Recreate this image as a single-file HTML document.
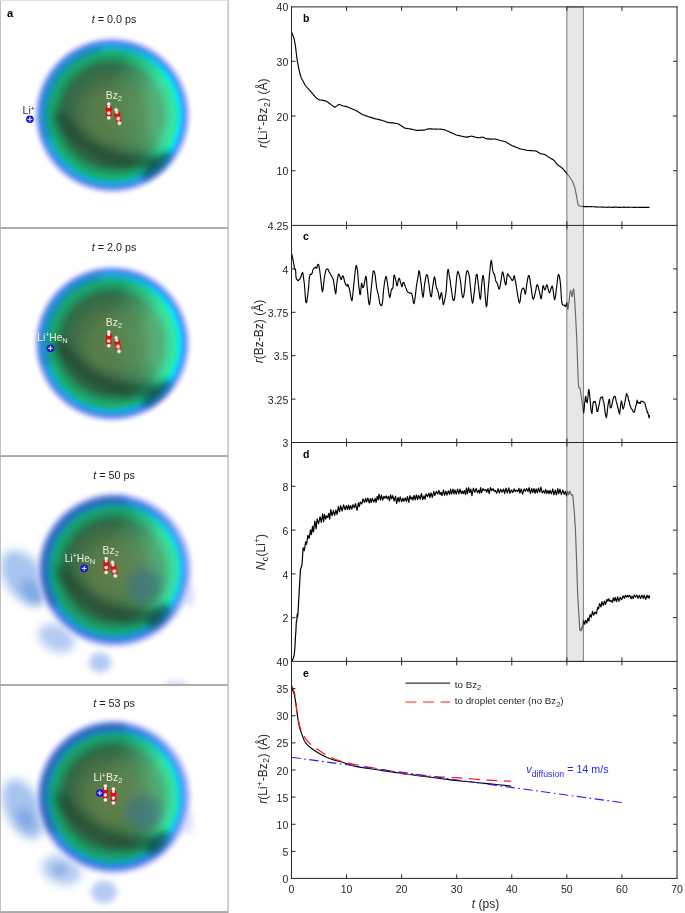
<!DOCTYPE html>
<html><head><meta charset="utf-8"><title>figure</title>
<style>
html,body{margin:0;padding:0;background:#fff;width:685px;height:913px;overflow:hidden;}
svg{display:block;will-change:transform;}
text{font-family:"Liberation Sans",sans-serif;}
</style></head><body>
<svg width="685" height="913" viewBox="0 0 685 913">
<rect width="685" height="913" fill="#fff"/>
<defs>
<filter id="bl1" x="-50%" y="-50%" width="200%" height="200%"><feGaussianBlur stdDeviation="1.2"/></filter>
<filter id="bl2" x="-50%" y="-50%" width="200%" height="200%"><feGaussianBlur stdDeviation="2"/></filter>
<filter id="bl3" x="-50%" y="-50%" width="200%" height="200%"><feGaussianBlur stdDeviation="3"/></filter>
<filter id="bl5" x="-50%" y="-50%" width="200%" height="200%"><feGaussianBlur stdDeviation="5"/></filter>
<filter id="bl8" x="-50%" y="-50%" width="200%" height="200%"><feGaussianBlur stdDeviation="8"/></filter>
<filter id="bl12" x="-50%" y="-50%" width="200%" height="200%"><feGaussianBlur stdDeviation="12"/></filter>
<radialGradient id="gL" cx="0" cy="0" r="80" gradientUnits="userSpaceOnUse">
  <stop offset="0" stop-color="#5e804a"/>
  <stop offset="0.30" stop-color="#527a4a"/>
  <stop offset="0.50" stop-color="#3e6c46"/>
  <stop offset="0.62" stop-color="#2e6c48"/>
  <stop offset="0.71" stop-color="#1f9660"/>
  <stop offset="0.79" stop-color="#18b27c"/>
  <stop offset="0.858" stop-color="#10a8e0"/>
  <stop offset="0.905" stop-color="#4a8ce8"/>
  <stop offset="0.94" stop-color="#a0b4f4"/>
  <stop offset="0.975" stop-color="#dcdeff" stop-opacity="0.7"/>
  <stop offset="1" stop-color="#ffffff" stop-opacity="0"/>
</radialGradient>
<radialGradient id="gR" cx="0" cy="0" r="80" gradientUnits="userSpaceOnUse">
  <stop offset="0" stop-color="#5a8a50"/>
  <stop offset="0.375" stop-color="#5a9a62"/>
  <stop offset="0.625" stop-color="#50b47c"/>
  <stop offset="0.725" stop-color="#3cdc9c"/>
  <stop offset="0.79" stop-color="#30e6a6"/>
  <stop offset="0.845" stop-color="#00e4fa"/>
  <stop offset="0.895" stop-color="#3098f8"/>
  <stop offset="0.935" stop-color="#98b4f8"/>
  <stop offset="0.97" stop-color="#dcdeff" stop-opacity="0.7"/>
  <stop offset="1" stop-color="#ffffff" stop-opacity="0"/>
</radialGradient>
<radialGradient id="gMask" cx="72" cy="-6" r="82" gradientUnits="userSpaceOnUse">
  <stop offset="0" stop-color="#fff"/>
  <stop offset="0.45" stop-color="#fff"/>
  <stop offset="1" stop-color="#000"/>
</radialGradient>
<mask id="mR" maskUnits="userSpaceOnUse" x="-82" y="-82" width="164" height="164">
  <rect x="-82" y="-82" width="164" height="164" fill="url(#gMask)"/>
</mask>
<filter id="bl15" x="-50%" y="-50%" width="200%" height="200%"><feGaussianBlur stdDeviation="1.6"/></filter>
<g id="dropA">
  <g filter="url(#bl15)">
  <circle r="80" fill="url(#gL)"/>
  <circle r="80" fill="url(#gR)" mask="url(#mR)"/>
  </g>
  <path d="M-52 2 Q-18 52 40 46" fill="none" stroke="#183e2c" stroke-width="13" stroke-linecap="round" opacity="0.6" filter="url(#bl5)"/>
  <path d="M-62.96 22.9 A67 67 0 0 1 -11.6 -66" fill="none" stroke="#1a4a78" stroke-width="7" opacity="0.3" filter="url(#bl3)"/>
  <ellipse cx="44" cy="50" rx="19" ry="6" transform="rotate(-42 44 50)" fill="#0c3040" opacity="0.6" filter="url(#bl3)"/>
</g>
<radialGradient id="gLB" cx="0" cy="0" r="79" gradientUnits="userSpaceOnUse">
  <stop offset="0" stop-color="#66804a"/>
  <stop offset="0.30" stop-color="#567a48"/>
  <stop offset="0.50" stop-color="#406c44"/>
  <stop offset="0.62" stop-color="#2e6a46"/>
  <stop offset="0.71" stop-color="#1f9260"/>
  <stop offset="0.79" stop-color="#16a878"/>
  <stop offset="0.855" stop-color="#1498d8"/>
  <stop offset="0.90" stop-color="#3a74e6"/>
  <stop offset="0.94" stop-color="#98b0f4"/>
  <stop offset="0.975" stop-color="#d0d4ff" stop-opacity="0.7"/>
  <stop offset="1" stop-color="#ffffff" stop-opacity="0"/>
</radialGradient>
<radialGradient id="gRB" cx="0" cy="0" r="79" gradientUnits="userSpaceOnUse">
  <stop offset="0" stop-color="#62844c"/>
  <stop offset="0.375" stop-color="#5a9460"/>
  <stop offset="0.62" stop-color="#4cb078"/>
  <stop offset="0.72" stop-color="#3cd898"/>
  <stop offset="0.785" stop-color="#30e2a4"/>
  <stop offset="0.835" stop-color="#00d8f6"/>
  <stop offset="0.885" stop-color="#3a8cf2"/>
  <stop offset="0.93" stop-color="#94b4f4"/>
  <stop offset="0.965" stop-color="#c8ccff" stop-opacity="0.7"/>
  <stop offset="1" stop-color="#ffffff" stop-opacity="0"/>
</radialGradient>
<g id="dropB">
  <ellipse cx="74" cy="25" rx="5" ry="12" fill="#a8acff" opacity="0.45" filter="url(#bl3)"/>
  <g filter="url(#bl2)">
    <circle r="79" fill="url(#gLB)"/>
    <circle r="79" fill="url(#gRB)" mask="url(#mR)"/>
  </g>
  <path d="M-60 34.6 A69 69 0 0 1 12 -68" fill="none" stroke="#1a4a7a" stroke-width="8" opacity="0.4" filter="url(#bl3)"/>
  <path d="M-52 2 Q-18 52 40 46" fill="none" stroke="#183e2c" stroke-width="13" stroke-linecap="round" opacity="0.55" filter="url(#bl5)"/>
  <ellipse cx="44" cy="46" rx="15" ry="7" transform="rotate(-45 44 46)" fill="#0c3040" opacity="0.55" filter="url(#bl3)"/>
  <ellipse cx="30" cy="15" rx="18" ry="17" fill="#3a6a88" opacity="0.55" filter="url(#bl5)"/>
</g>
<filter id="bl04" x="-50%" y="-50%" width="200%" height="200%"><feGaussianBlur stdDeviation="0.35"/></filter>
<g id="mol" filter="url(#bl04)">
  <ellipse cx="0" cy="-2.6" rx="3" ry="3.3" fill="#e00a0a"/>
  <ellipse cx="0" cy="2.6" rx="3" ry="3.3" fill="#e00a0a"/>
  <circle cx="0" cy="-6.9" r="1.75" fill="#f4f4f4"/>
  <circle cx="0" cy="-4.5" r="1.55" fill="#f4f4f4"/>
  <circle cx="0" cy="2.1" r="1.8" fill="#f4f4f4"/>
  <circle cx="0" cy="6.9" r="1.8" fill="#f4f4f4"/>
</g>
<g id="li">
  <circle r="3.8" fill="#1010e0"/>
  <path d="M-2.4 0H2.4M0 -2.4V2.4" stroke="#fff" stroke-width="1"/>
</g>
</defs>

<g id="panels">
<clipPath id="cp1"><rect x="1" y="1" width="226" height="226"/></clipPath>
<clipPath id="cp2"><rect x="1" y="229" width="226" height="226"/></clipPath>
<clipPath id="cp3"><rect x="1" y="457" width="226" height="227"/></clipPath>
<clipPath id="cp4"><rect x="1" y="686" width="226" height="225"/></clipPath>
<!-- panel 1 -->
<g clip-path="url(#cp1)">
  <use href="#dropA" transform="translate(112.3,115.2)"/>
  <use href="#mol" transform="translate(108.8,111)"/>
  <use href="#mol" transform="translate(117.8,116.6) rotate(-14)"/>
  <use href="#li" transform="translate(29.9,119.3)"/>
  <text x="22.6" y="114.3" font-size="10.5" fill="#333">Li<tspan dy="-3.5" font-size="7">+</tspan></text>
  <text x="105.8" y="99" font-size="10.5" fill="#e8ece0">Bz<tspan dy="2" font-size="7.5">2</tspan></text>
</g>
<!-- panel 2 -->
<g clip-path="url(#cp2)"><g transform="translate(0,228.3)">
  <use href="#dropA" transform="translate(112.3,115.2)"/>
  <use href="#mol" transform="translate(108.8,110.6)"/>
  <use href="#mol" transform="translate(117.6,116.3) rotate(-12)"/>
  <use href="#li" transform="translate(50.4,119.9)"/>
  <text x="37.3" y="112.4" font-size="10.2" fill="#eef0ea">Li<tspan dy="-3.5" font-size="7">+</tspan><tspan dy="3.5">He</tspan><tspan dy="2" font-size="7.5">N</tspan></text>
  <text x="105.8" y="97.6" font-size="10.5" fill="#e8ece0">Bz<tspan dy="2" font-size="7.5">2</tspan></text>
</g>
</g>
<!-- panel 3 -->
<g clip-path="url(#cp3)"><g transform="translate(0,456.5)">
  <ellipse cx="176" cy="228" rx="12" ry="5" fill="#a8acff" opacity="0.35" filter="url(#bl2)"/>
  <g transform="translate(114.5,113.5)">
  <ellipse cx="-90" cy="8" rx="19" ry="31" transform="rotate(-35 -90 8)" fill="#8ab0ea" opacity="0.75" filter="url(#bl5)"/>
  <ellipse cx="-82" cy="22" rx="9" ry="14" transform="rotate(-40 -82 22)" fill="#5a90d8" opacity="0.5" filter="url(#bl5)"/>
  <ellipse cx="-58" cy="68" rx="19" ry="13" transform="rotate(25 -58 68)" fill="#80a8e8" opacity="0.6" filter="url(#bl5)"/>
  <ellipse cx="-14.5" cy="92.5" rx="11" ry="10" fill="#80a8e8" opacity="0.6" filter="url(#bl3)"/>
  </g>
  <use href="#dropB" transform="translate(114.5,113.5)"/>
  <use href="#mol" transform="translate(106.2,109)"/>
  <use href="#mol" transform="translate(113.9,112.7) rotate(-12)"/>
  <use href="#li" transform="translate(84.2,111.9)"/>
  <text x="64.8" y="105.2" font-size="10.2" fill="#eef0ea">Li<tspan dy="-3.5" font-size="7">+</tspan><tspan dy="3.5">He</tspan><tspan dy="2" font-size="7.5">N</tspan></text>
  <text x="102.6" y="97.6" font-size="10.5" fill="#e8ece0">Bz<tspan dy="2" font-size="7.5">2</tspan></text>
</g>
</g>
<!-- panel 4 -->
<g clip-path="url(#cp4)"><g transform="translate(0,684.7)">
  <g transform="translate(113.5,112.3)">
  <ellipse cx="-90" cy="12" rx="18" ry="32" transform="rotate(-25 -90 12)" fill="#8ab0ea" opacity="0.75" filter="url(#bl5)"/>
  <ellipse cx="-88" cy="22" rx="8" ry="12" transform="rotate(-30 -88 22)" fill="#5a90d8" opacity="0.5" filter="url(#bl5)"/>
  <ellipse cx="-52" cy="73" rx="20" ry="14" transform="rotate(20 -52 73)" fill="#80a8e8" opacity="0.6" filter="url(#bl5)"/>
  <ellipse cx="-54" cy="73" rx="7" ry="6" fill="#6090d0" opacity="0.4" filter="url(#bl3)"/>
  <ellipse cx="-9.5" cy="95" rx="13" ry="11" fill="#80a8e8" opacity="0.6" filter="url(#bl3)"/>
  </g>
  <use href="#dropB" transform="translate(113.5,112.3)"/>
  <use href="#mol" transform="translate(105.4,108.3)"/>
  <use href="#mol" transform="translate(113.4,111.3)"/>
  <use href="#li" transform="translate(99.8,108.3)"/>
  <text x="93.6" y="96.8" font-size="10.5" fill="#eef0ea">Li<tspan dy="-3.5" font-size="7">+</tspan><tspan dy="3.5">Bz</tspan><tspan dy="2" font-size="7.5">2</tspan></text>
</g>
</g>
<!-- titles -->
<g font-size="10.8" fill="#1a1a1a" text-anchor="middle">
  <text x="114" y="22.5"><tspan font-style="italic">t</tspan> = 0.0 ps</text>
  <text x="114" y="250.8"><tspan font-style="italic">t</tspan> = 2.0 ps</text>
  <text x="114" y="479"><tspan font-style="italic">t</tspan> = 50 ps</text>
  <text x="114" y="707.2"><tspan font-style="italic">t</tspan> = 53 ps</text>
</g>
<text x="7" y="16.8" font-size="11.2" font-weight="bold" fill="#000">a</text>
<!-- borders -->
<g fill="none" stroke-width="1">
  <path d="M0.5 0V913" stroke="#c0c0c0"/>
  <path d="M0 0.5H229" stroke="#e0e0e0"/>
  <path d="M227.5 0V913" stroke="#d8d8d8"/>
  <path d="M228.5 0V913" stroke="#c8c8c8"/>
  <path d="M0 227.5H228M0 455.5H228M0 684.5H228M0 911.5H228" stroke="#b0b0b0"/>
  <path d="M0 228.5H228M0 456.5H228M0 685.5H228M0 912.5H228" stroke="#aaaaaa"/>
</g>
</g>

<g font-size="10.5" fill="#262626">
<text x="288.3" y="11.10" text-anchor="end">40</text>
<text x="288.3" y="65.85" text-anchor="end">30</text>
<text x="288.3" y="120.60" text-anchor="end">20</text>
<text x="288.3" y="175.35" text-anchor="end">10</text>
<text x="288.3" y="230.10" text-anchor="end">4.25</text>
<text x="288.3" y="273.50" text-anchor="end">4</text>
<text x="288.3" y="316.90" text-anchor="end">3.75</text>
<text x="288.3" y="360.30" text-anchor="end">3.5</text>
<text x="288.3" y="403.70" text-anchor="end">3.25</text>
<text x="288.3" y="447.10" text-anchor="end">3</text>
<text x="288.3" y="490.90" text-anchor="end">8</text>
<text x="288.3" y="534.70" text-anchor="end">6</text>
<text x="288.3" y="578.50" text-anchor="end">4</text>
<text x="288.3" y="622.30" text-anchor="end">2</text>
<text x="288.3" y="666.10" text-anchor="end">40</text>
<text x="288.3" y="693.23" text-anchor="end">35</text>
<text x="288.3" y="720.35" text-anchor="end">30</text>
<text x="288.3" y="747.48" text-anchor="end">25</text>
<text x="288.3" y="774.60" text-anchor="end">20</text>
<text x="288.3" y="801.73" text-anchor="end">15</text>
<text x="288.3" y="828.85" text-anchor="end">10</text>
<text x="288.3" y="855.98" text-anchor="end">5</text>
<text x="288.3" y="883.10" text-anchor="end">0</text>
<text x="291.50" y="892.9" text-anchor="middle">0</text>
<text x="346.57" y="892.9" text-anchor="middle">10</text>
<text x="401.64" y="892.9" text-anchor="middle">20</text>
<text x="456.71" y="892.9" text-anchor="middle">30</text>
<text x="511.79" y="892.9" text-anchor="middle">40</text>
<text x="566.86" y="892.9" text-anchor="middle">50</text>
<text x="621.93" y="892.9" text-anchor="middle">60</text>
<text x="677.00" y="892.9" text-anchor="middle">70</text>
</g>
<g fill="none" stroke="#000" stroke-width="1.15" stroke-linejoin="round">
<polyline points="291.60,32.34 292.40,34.27 293.20,36.08 294.00,38.50 294.80,42.40 295.60,47.25 296.40,54.03 297.20,60.19 298.00,64.68 298.80,68.56 299.60,72.03 300.40,74.99 301.20,77.96 302.00,79.33 302.80,80.82 303.60,82.16 304.40,83.73 305.20,85.24 306.00,86.26 306.80,87.21 307.60,88.09 308.40,88.84 309.20,89.90 310.00,90.76 310.80,91.58 311.60,92.42 312.40,93.57 313.20,94.43 314.00,95.44 314.80,96.42 315.60,97.33 316.40,98.01 317.20,98.47 318.00,99.16 318.80,99.61 319.60,99.88 320.40,100.02 321.20,99.98 322.00,100.15 322.80,100.32 323.60,100.65 324.40,100.68 325.20,100.88 326.00,100.95 326.80,101.54 327.60,102.05 328.40,102.58 329.20,103.18 330.00,103.72 330.80,104.38 331.60,104.95 332.40,105.63 333.20,106.23 334.00,106.88 334.80,107.27 335.60,106.59 336.40,106.19 337.20,105.65 338.00,105.07 338.80,104.43 339.60,104.47 340.40,104.69 341.20,105.19 342.00,105.47 342.80,105.75 343.60,106.01 344.40,106.28 345.20,106.39 346.00,106.26 346.80,106.65 347.60,106.92 348.40,107.21 349.20,107.61 350.00,108.08 350.80,108.46 351.60,108.62 352.40,109.11 353.20,109.30 354.00,109.79 354.80,110.02 355.60,110.48 356.40,110.83 357.20,111.19 358.00,111.82 358.80,112.17 359.60,112.63 360.40,113.27 361.20,113.65 362.00,114.21 362.80,114.68 363.60,115.00 364.40,115.17 365.20,115.41 366.00,115.89 366.80,116.03 367.60,116.46 368.40,116.72 369.20,116.87 370.00,117.15 370.80,117.40 371.60,117.67 372.40,117.90 373.20,118.13 374.00,118.39 374.80,118.71 375.60,118.84 376.40,119.02 377.20,119.26 378.00,119.32 378.80,119.51 379.60,119.85 380.40,119.92 381.20,120.10 382.00,120.20 382.80,120.60 383.60,120.94 384.40,121.11 385.20,121.56 386.00,121.86 386.80,122.03 387.60,122.44 388.40,122.47 389.20,122.60 390.00,122.59 390.80,122.75 391.60,122.83 392.40,122.75 393.20,122.87 394.00,123.13 394.80,123.31 395.60,123.25 396.40,123.41 397.20,123.55 398.00,123.75 398.80,124.26 399.60,124.75 400.40,125.27 401.20,125.83 402.00,126.26 402.80,126.78 403.60,127.38 404.40,127.71 405.20,128.25 406.00,128.41 406.80,128.43 407.60,128.53 408.40,128.79 409.20,128.78 410.00,128.89 410.80,129.07 411.60,129.30 412.40,129.34 413.20,129.57 414.00,129.75 414.80,130.05 415.60,130.14 416.40,130.42 417.20,130.30 418.00,130.31 418.80,130.35 419.60,130.37 420.40,130.24 421.20,130.15 422.00,130.09 422.80,130.16 423.60,130.04 424.40,130.06 425.20,129.83 426.00,129.43 426.80,129.22 427.60,129.11 428.40,128.83 429.20,128.91 430.00,128.85 430.80,128.84 431.60,128.92 432.40,129.08 433.20,128.99 434.00,129.05 434.80,129.08 435.60,129.08 436.40,129.08 437.20,129.20 438.00,129.02 438.80,128.98 439.60,129.21 440.40,129.19 441.20,129.22 442.00,129.18 442.80,129.47 443.60,129.62 444.40,129.61 445.20,130.07 446.00,130.45 446.80,130.77 447.60,131.09 448.40,131.40 449.20,131.77 450.00,132.10 450.80,132.41 451.60,132.88 452.40,133.15 453.20,133.62 454.00,133.79 454.80,134.34 455.60,134.63 456.40,134.98 457.20,135.20 458.00,135.41 458.80,135.55 459.60,135.64 460.40,136.03 461.20,136.06 462.00,136.26 462.80,136.51 463.60,136.64 464.40,136.77 465.20,137.06 466.00,137.15 466.80,137.08 467.60,136.89 468.40,136.86 469.20,136.60 470.00,136.51 470.80,136.23 471.60,136.03 472.40,136.32 473.20,136.59 474.00,136.65 474.80,137.01 475.60,137.25 476.40,137.43 477.20,137.64 478.00,137.66 478.80,137.75 479.60,137.71 480.40,137.42 481.20,137.38 482.00,137.29 482.80,137.25 483.60,137.38 484.40,137.78 485.20,138.24 486.00,138.44 486.80,138.84 487.60,138.92 488.40,138.93 489.20,138.92 490.00,139.15 490.80,139.13 491.60,138.95 492.40,139.06 493.20,139.03 494.00,139.04 494.80,139.05 495.60,139.13 496.40,139.33 497.20,139.52 498.00,139.72 498.80,140.00 499.60,140.19 500.40,140.52 501.20,140.76 502.00,140.88 502.80,141.01 503.60,141.24 504.40,141.49 505.20,141.75 506.00,142.03 506.80,142.43 507.60,143.03 508.40,143.48 509.20,143.93 510.00,144.41 510.80,144.94 511.60,145.49 512.40,145.75 513.20,146.13 514.00,146.38 514.80,146.64 515.60,147.02 516.40,147.36 517.20,147.52 518.00,147.92 518.80,148.23 519.60,148.64 520.40,148.97 521.20,149.01 522.00,149.30 522.80,149.44 523.60,149.48 524.40,149.69 525.20,149.78 526.00,150.11 526.80,150.23 527.60,150.45 528.40,150.52 529.20,150.55 530.00,150.63 530.80,150.66 531.60,150.61 532.40,150.79 533.20,150.72 534.00,150.81 534.80,151.03 535.60,150.92 536.40,150.99 537.20,151.48 538.00,152.20 538.80,152.58 539.60,153.08 540.40,153.71 541.20,153.67 542.00,153.97 542.80,154.06 543.60,154.22 544.40,154.38 545.20,154.73 546.00,155.34 546.80,155.71 547.60,156.44 548.40,156.93 549.20,157.46 550.00,157.78 550.80,158.41 551.60,158.92 552.40,159.18 553.20,159.71 554.00,160.37 554.80,161.44 555.60,162.30 556.40,163.29 557.20,164.31 558.00,165.05 558.80,165.69 559.60,166.20 560.40,166.79 561.20,167.40 562.00,167.99 562.80,168.71 563.60,169.53 564.40,170.52 565.20,171.52 566.00,172.28 566.80,173.40 567.60,174.29 568.40,175.45 569.20,176.51 570.00,177.52 570.80,178.68 571.60,180.03 572.40,181.42 573.20,183.08 574.00,185.26 574.80,187.60 575.60,191.43 576.40,195.14 577.20,200.24 578.00,204.54 578.80,205.64 579.60,206.06 580.40,206.16 581.20,206.21 582.00,206.38 582.80,206.39 583.60,206.44 584.40,206.58 585.20,206.66 586.00,206.53 586.80,206.66 587.60,206.61 588.40,206.74 589.20,206.71 590.00,206.66 590.80,206.67 591.60,206.65 592.40,206.78 593.20,206.79 594.00,206.76 594.80,206.83 595.60,206.85 596.40,206.99 597.20,206.86 598.00,207.09 598.80,206.99 599.60,207.05 600.40,207.04 601.20,207.16 602.00,207.18 602.80,207.14 603.60,207.15 604.40,207.23 605.20,207.29 606.00,207.18 606.80,207.26 607.60,207.32 608.40,207.21 609.20,207.15 610.00,207.16 610.80,207.28 611.60,207.27 612.40,207.34 613.20,207.32 614.00,207.17 614.80,207.16 615.60,207.18 616.40,207.17 617.20,207.30 618.00,207.34 618.80,207.35 619.60,207.20 620.40,207.35 621.20,207.22 622.00,207.25 622.80,207.33 623.60,207.18 624.40,207.18 625.20,207.36 626.00,207.23 626.80,207.25 627.60,207.31 628.40,207.34 629.20,207.18 630.00,207.26 630.80,207.28 631.60,207.30 632.40,207.23 633.20,207.32 634.00,207.41 634.80,207.27 635.60,207.31 636.40,207.21 637.20,207.25 638.00,207.34 638.80,207.21 639.60,207.39 640.40,207.40 641.20,207.20 642.00,207.41 642.80,207.27 643.60,207.37 644.40,207.36 645.20,207.25 646.00,207.34 646.80,207.34 647.60,207.37 648.40,207.24 649.20,207.36 649.50,207.41"/>
<polyline points="291.70,253.51 292.00,255.00 292.43,257.03 292.90,259.36 293.30,261.22 293.61,263.28 293.88,264.40 294.13,266.56 294.40,268.40 294.71,268.92 295.03,269.49 295.34,269.16 295.60,270.37 295.75,271.94 295.83,274.53 295.94,276.85 296.20,278.06 296.66,279.25 297.24,279.89 297.89,280.70 298.50,280.54 299.09,279.64 299.68,279.52 300.26,278.04 300.80,277.51 301.29,275.63 301.73,273.69 302.16,273.10 302.60,272.44 303.05,274.05 303.51,277.52 303.96,280.93 304.40,284.21 304.82,289.77 305.22,295.40 305.64,300.73 306.10,302.83 306.66,302.25 307.28,298.19 307.89,293.62 308.40,289.35 308.75,285.28 309.00,281.74 309.25,278.33 309.60,275.88 310.12,274.55 310.75,274.36 311.38,274.49 311.90,273.45 312.25,272.99 312.50,271.37 312.75,270.06 313.10,269.49 313.62,268.47 314.25,267.80 314.88,267.60 315.40,267.58 315.76,267.08 316.02,268.23 316.27,267.65 316.60,268.22 317.04,267.31 317.54,264.98 318.07,264.50 318.60,264.38 319.12,266.87 319.66,270.03 320.19,274.26 320.70,278.21 321.16,282.90 321.59,286.58 322.02,290.49 322.50,291.79 323.04,289.52 323.62,284.27 324.21,278.95 324.80,275.02 325.37,272.70 325.94,270.17 326.52,269.45 327.10,268.87 327.70,269.22 328.30,269.61 328.90,271.87 329.50,272.33 330.10,273.45 330.69,274.51 331.27,275.63 331.80,276.06 332.26,277.48 332.66,278.01 333.06,278.96 333.50,280.74 334.01,283.81 334.57,287.95 335.11,291.72 335.60,293.87 335.99,292.86 336.32,288.85 336.64,284.84 337.00,282.44 337.41,279.43 337.84,276.77 338.31,274.63 338.80,273.98 339.35,274.90 339.95,276.51 340.55,278.55 341.10,279.30 341.57,279.47 342.00,277.12 342.43,276.03 342.90,275.90 343.45,276.46 344.05,279.17 344.65,281.76 345.20,283.32 345.70,284.62 346.18,284.88 346.61,285.75 347.00,285.78 347.31,286.10 347.55,284.81 347.79,284.28 348.10,284.85 348.49,285.80 348.94,287.64 349.41,289.24 349.90,291.39 350.41,294.43 350.94,297.64 351.47,300.10 352.00,300.61 352.51,297.61 353.01,292.80 353.50,287.56 354.00,282.41 354.51,277.51 355.03,272.72 355.54,268.62 356.00,265.93 356.42,265.50 356.80,266.75 357.16,268.55 357.50,270.28 357.81,273.54 358.10,277.25 358.39,281.09 358.70,284.55 359.06,288.03 359.44,291.13 359.82,294.10 360.20,294.70 360.55,293.14 360.89,289.66 361.23,285.66 361.60,283.01 361.98,284.01 362.37,285.68 362.80,287.57 363.30,287.46 363.94,285.60 364.68,281.32 365.40,277.94 366.00,276.17 366.40,277.89 366.69,281.01 366.95,285.28 367.30,288.86 367.77,293.66 368.31,299.05 368.86,303.46 369.40,304.67 369.91,302.90 370.42,298.02 370.92,291.99 371.40,287.13 371.87,282.69 372.32,277.84 372.76,274.02 373.20,271.20 373.63,270.89 374.05,271.27 374.47,272.05 374.90,274.07 375.35,276.95 375.80,280.82 376.25,284.32 376.70,288.15 377.13,290.15 377.55,291.81 377.97,293.04 378.40,295.01 378.84,297.68 379.27,300.49 379.73,303.24 380.20,304.37 380.72,305.29 381.28,305.68 381.82,305.24 382.30,303.35 382.68,301.00 383.00,297.11 383.32,292.38 383.70,288.97 384.19,285.13 384.75,281.26 385.31,278.24 385.80,276.64 386.20,276.52 386.56,277.85 386.88,279.66 387.20,281.97 387.51,283.75 387.80,286.05 388.09,288.20 388.40,289.96 388.73,292.86 389.08,294.54 389.44,296.90 389.80,297.60 390.16,296.78 390.53,294.31 390.91,292.42 391.30,290.09 391.73,288.95 392.18,289.15 392.62,288.21 393.00,287.34 393.28,284.31 393.49,280.67 393.70,277.43 394.00,275.29 394.43,275.15 394.94,277.18 395.45,279.22 395.90,280.78 396.24,282.09 396.51,284.09 396.77,285.25 397.10,285.91 397.51,284.73 397.97,282.13 398.44,279.61 398.90,278.85 399.34,278.30 399.77,279.50 400.19,281.37 400.60,282.70 400.99,283.51 401.37,285.32 401.74,286.65 402.10,286.59 402.43,285.83 402.74,283.99 403.08,282.45 403.50,282.43 404.03,282.65 404.64,284.78 405.28,286.63 405.90,287.99 406.45,289.03 406.98,290.98 407.54,291.70 408.20,292.52 409.02,292.76 409.95,293.26 410.88,292.88 411.70,293.51 412.36,296.16 412.92,299.43 413.45,302.91 414.00,303.55 414.61,300.92 415.24,296.68 415.85,291.40 416.40,286.26 416.89,283.53 417.32,280.52 417.73,278.69 418.10,276.45 418.42,273.89 418.69,271.97 418.97,270.64 419.30,271.44 419.71,272.60 420.16,276.00 420.63,279.59 421.10,283.33 421.57,287.30 422.06,291.98 422.54,295.20 423.00,297.43 423.41,295.64 423.79,292.32 424.17,287.88 424.60,284.22 425.09,281.34 425.63,278.15 426.18,275.56 426.70,274.72 427.18,275.05 427.63,276.26 428.09,278.95 428.60,281.96 429.18,286.24 429.81,291.07 430.44,295.07 431.00,296.76 431.47,296.62 431.89,293.45 432.28,289.95 432.70,286.89 433.15,283.84 433.60,280.46 434.05,278.24 434.50,276.70 434.93,277.91 435.35,281.15 435.77,283.85 436.20,286.52 436.65,288.47 437.10,288.80 437.55,290.45 438.00,291.58 438.43,293.36 438.85,295.70 439.27,298.27 439.70,299.37 440.14,297.63 440.59,295.51 441.05,293.29 441.50,292.60 441.95,294.56 442.41,298.22 442.86,302.44 443.30,304.78 443.72,303.87 444.14,302.39 444.53,300.70 444.90,298.66 445.22,297.20 445.49,295.44 445.77,294.40 446.10,291.83 446.49,286.79 446.91,279.87 447.36,273.08 447.80,270.11 448.25,269.30 448.70,271.66 449.15,274.94 449.60,277.59 450.03,279.70 450.45,282.79 450.87,286.42 451.30,288.68 451.75,292.24 452.20,295.38 452.65,298.02 453.10,300.21 453.52,300.44 453.91,300.48 454.33,299.62 454.80,296.81 455.36,291.70 455.97,285.03 456.60,278.19 457.20,273.64 457.76,271.44 458.31,272.08 458.83,273.35 459.30,275.09 459.69,276.46 460.03,278.76 460.35,280.52 460.70,282.80 461.10,286.76 461.52,290.32 461.96,294.43 462.40,296.61 462.83,297.69 463.26,297.05 463.71,295.71 464.20,292.89 464.73,288.57 465.30,281.98 465.89,276.31 466.50,272.12 467.15,270.55 467.85,271.12 468.52,272.82 469.10,275.21 469.55,277.43 469.90,281.49 470.23,285.37 470.60,288.63 471.03,293.22 471.49,297.14 471.95,300.89 472.40,303.18 472.83,302.33 473.25,300.64 473.67,297.07 474.10,293.54 474.56,290.06 475.04,284.72 475.50,280.90 475.90,277.00 476.22,275.15 476.49,274.79 476.73,274.26 477.00,274.25 477.27,275.33 477.54,278.07 477.83,280.36 478.20,283.49 478.68,287.18 479.24,293.01 479.80,297.41 480.30,299.36 480.70,297.72 481.06,293.68 481.38,288.35 481.70,284.30 482.02,281.09 482.32,279.02 482.61,276.79 482.90,275.87 483.15,275.38 483.37,276.37 483.64,277.78 484.00,280.98 484.52,287.08 485.16,295.66 485.82,303.08 486.40,306.84 486.87,305.64 487.29,301.31 487.68,295.25 488.10,290.55 488.55,285.20 489.02,280.10 489.48,274.28 489.90,270.37 490.28,267.08 490.62,263.61 490.95,261.16 491.30,260.37 491.66,261.40 492.03,264.51 492.40,268.02 492.80,270.89 493.25,272.32 493.73,273.64 494.19,273.71 494.60,274.78 494.91,276.21 495.15,277.71 495.39,279.40 495.70,280.66 496.10,281.77 496.56,281.97 497.04,283.37 497.50,283.68 497.93,285.64 498.35,287.26 498.77,288.74 499.20,288.97 499.65,288.33 500.10,285.48 500.55,283.44 501.00,280.71 501.40,278.40 501.78,275.39 502.19,272.49 502.70,271.83 503.37,273.92 504.14,278.41 504.92,282.53 505.60,284.91 506.12,284.15 506.54,280.29 506.94,276.60 507.40,274.47 507.92,273.95 508.47,274.98 509.06,276.04 509.70,276.50 510.43,277.54 511.24,279.10 512.03,280.33 512.70,280.43 513.20,279.35 513.59,278.10 513.96,275.77 514.40,275.80 514.92,278.43 515.48,281.36 516.08,284.88 516.70,289.04 517.39,293.55 518.13,297.77 518.86,301.48 519.50,303.03 520.01,301.66 520.42,298.84 520.83,294.37 521.30,291.79 521.87,289.43 522.51,288.61 523.14,288.00 523.70,288.41 524.19,289.28 524.62,291.55 525.03,293.59 525.40,294.13 525.72,292.73 526.00,290.43 526.28,288.50 526.60,285.21 527.00,282.96 527.44,280.10 527.88,277.78 528.30,275.83 528.67,275.49 529.01,275.48 529.34,276.68 529.70,278.38 530.08,280.22 530.48,283.31 530.89,285.85 531.30,288.57 531.72,291.94 532.14,294.93 532.57,297.58 533.00,298.89 533.43,299.21 533.86,298.40 534.31,297.03 534.80,294.73 535.34,292.40 535.92,289.59 536.51,286.22 537.10,284.65 537.69,285.26 538.28,286.74 538.86,289.58 539.40,291.69 539.89,293.53 540.33,296.07 540.76,298.14 541.20,298.77 541.65,296.44 542.09,292.70 542.54,288.68 543.00,285.87 543.46,285.75 543.93,287.85 544.41,289.02 544.90,289.93 545.40,289.06 545.92,287.27 546.45,285.26 547.00,284.93 547.57,286.16 548.15,289.11 548.76,291.44 549.40,292.96 550.10,291.64 550.86,289.21 551.61,286.72 552.30,286.05 552.93,288.92 553.52,293.25 554.07,297.86 554.60,299.81 555.08,298.92 555.51,295.84 555.94,292.77 556.40,288.89 556.91,284.74 557.44,280.08 557.97,276.20 558.50,274.29 559.02,275.22 559.55,277.20 560.05,280.36 560.50,284.64 560.85,288.83 561.14,293.66 561.43,298.74 561.80,302.47 562.30,304.37 562.88,305.27 563.46,305.28 564.00,305.10 564.47,305.33 564.91,306.13 565.32,306.49 565.70,306.45 566.04,305.29 566.34,304.33 566.62,303.21 566.90,302.70 567.15,303.57 567.37,306.60 567.64,308.48 568.00,309.09 568.52,305.49 569.16,300.28 569.82,294.48 570.40,290.46 570.87,290.69 571.29,293.34 571.68,295.41 572.10,296.54 572.52,294.58 572.94,291.13 573.38,288.80 573.90,290.23 574.53,297.96 575.25,309.79 575.97,323.30 576.60,336.10 577.12,348.81 577.56,362.29 577.98,374.50 578.40,383.40 578.83,387.49 579.25,388.19 579.67,387.79 580.10,388.60 580.54,391.22 580.99,394.42 581.45,397.79 581.90,400.90 582.35,404.23 582.81,407.79 583.26,410.54 583.70,413.00 584.13,409.50 584.55,403.38 584.97,401.19 585.40,397.13 585.85,396.24 586.30,401.51 586.75,400.49 587.20,402.86 587.61,399.89 588.00,396.70 588.41,391.04 588.90,389.43 589.51,393.64 590.19,400.63 590.89,409.15 591.50,412.61 592.01,413.46 592.46,408.50 592.88,404.88 593.30,401.74 593.71,402.91 594.09,401.59 594.51,401.45 595.00,401.30 595.59,402.93 596.24,405.76 596.95,411.40 597.70,411.37 598.54,407.40 599.46,403.10 600.37,397.98 601.20,397.24 601.91,397.72 602.56,396.72 603.17,401.03 603.80,402.00 604.45,406.93 605.09,412.37 605.74,415.63 606.40,417.72 607.09,413.45 607.81,406.46 608.49,402.31 609.10,399.39 609.55,399.25 609.90,403.75 610.27,407.42 610.80,407.99 611.55,406.61 612.44,402.20 613.38,397.87 614.30,396.29 615.21,396.24 616.16,401.18 617.04,404.22 617.80,407.54 618.37,409.20 618.81,411.60 619.20,412.91 619.60,414.12 620.03,410.44 620.45,407.21 620.87,403.54 621.30,400.98 621.70,401.44 622.09,404.03 622.53,407.25 623.10,409.11 623.88,407.09 624.80,402.63 625.75,397.41 626.60,393.24 627.31,395.90 627.96,396.17 628.57,400.83 629.20,401.14 629.85,405.07 630.49,406.15 631.14,408.33 631.80,409.25 632.47,409.87 633.15,411.79 633.83,412.36 634.50,411.78 635.16,408.44 635.81,406.21 636.45,404.22 637.10,400.01 637.75,402.59 638.40,402.42 639.05,403.39 639.70,402.71 640.35,403.28 640.99,401.05 641.64,401.19 642.30,401.36 642.99,401.86 643.71,401.99 644.39,402.65 645.00,403.07 645.49,406.26 645.91,407.07 646.29,408.94 646.70,409.17 647.16,412.52 647.64,412.00 648.10,413.95 648.50,415.01 648.83,416.79 649.11,417.89 649.34,415.37 649.50,416.95"/>
<polyline stroke-width="1.2" points="291.80,660.52 292.25,660.83 292.70,659.23 293.15,658.58 293.60,656.88 294.05,656.08 294.50,651.95 294.95,645.96 295.40,637.87 295.85,631.76 296.30,622.08 296.75,621.08 297.20,614.17 297.65,617.01 298.10,611.44 299.27,589.87 300.51,569.49 301.96,564.98 303.14,547.81 304.35,550.66 305.60,541.96 306.61,544.33 307.82,535.24 309.09,538.41 310.47,529.94 311.43,534.55 312.51,526.27 313.46,531.89 314.85,521.17 316.16,528.80 317.09,518.86 318.58,523.60 320.06,516.90 321.35,522.48 322.62,513.82 323.61,521.61 324.52,514.37 325.74,519.19 326.68,515.93 327.69,517.42 328.74,513.39 329.65,519.12 330.83,509.69 332.00,515.82 333.40,510.37 334.61,515.46 335.90,510.10 337.10,514.52 338.39,506.51 339.57,511.83 340.64,505.70 342.13,511.02 343.63,504.88 345.04,509.71 346.36,505.62 347.45,509.49 348.49,505.07 349.56,509.73 350.50,505.52 351.86,509.13 353.00,504.63 354.41,507.67 355.54,503.63 357.02,510.49 358.43,502.79 359.33,506.50 360.35,501.99 361.80,503.99 362.98,498.98 364.47,502.42 365.61,498.33 366.55,502.03 367.83,498.05 369.20,502.91 370.26,498.63 371.21,502.63 372.31,498.44 373.79,502.02 375.14,498.39 376.11,502.49 377.16,496.34 378.12,499.83 379.06,494.19 380.44,500.09 381.44,495.16 382.68,500.19 383.85,496.32 384.86,498.11 386.20,495.94 387.18,498.77 388.47,496.36 389.44,500.77 390.59,494.95 391.62,498.85 392.68,495.58 394.16,501.01 395.54,496.23 396.62,503.42 398.06,497.29 399.08,501.88 400.22,496.88 401.63,501.75 402.92,498.18 403.88,501.34 405.37,498.00 406.40,501.34 407.45,496.50 408.82,502.35 409.91,495.61 410.99,499.18 411.94,497.02 412.89,500.19 414.14,495.28 415.18,499.86 416.45,494.96 417.57,499.51 418.74,495.54 420.22,499.14 421.41,493.49 422.65,499.71 424.07,495.81 425.08,499.25 426.07,493.97 427.52,496.52 428.91,493.22 429.96,497.55 430.97,492.75 432.32,497.37 433.78,491.29 434.80,495.67 436.27,491.32 437.70,494.08 438.96,490.45 440.11,494.65 441.08,492.25 442.00,495.72 443.48,489.86 444.52,495.28 445.84,491.12 446.90,495.13 448.29,490.84 449.55,494.27 450.62,489.16 451.63,494.17 452.96,489.05 453.90,494.00 454.94,489.90 456.18,494.12 457.59,489.12 458.86,493.93 459.92,489.06 461.37,493.49 462.40,490.99 463.31,493.63 464.37,490.66 465.54,494.63 466.47,488.19 467.48,493.70 468.60,487.66 469.84,492.70 470.82,489.20 471.94,495.68 473.37,488.19 474.86,492.40 476.16,488.41 477.47,492.51 478.72,490.22 479.70,493.33 480.63,487.60 481.54,492.72 482.98,488.66 484.30,490.44 485.78,489.59 486.69,492.21 487.98,488.58 489.16,493.65 490.50,487.61 491.59,490.70 493.09,488.66 494.04,491.13 495.27,490.38 496.61,493.24 498.05,488.79 499.39,493.00 500.71,489.21 502.09,492.14 503.54,489.01 504.65,493.59 505.96,488.23 507.40,492.97 508.82,487.93 509.97,493.38 511.35,489.98 512.77,492.52 514.01,488.83 515.29,491.75 516.41,490.18 517.66,491.59 518.93,488.27 519.88,493.05 521.16,489.04 522.66,494.15 524.09,488.95 525.42,491.27 526.56,488.53 527.90,491.48 529.14,487.61 530.31,493.36 531.71,488.49 532.66,492.69 534.01,488.50 534.93,493.51 536.19,489.03 537.38,492.93 538.42,488.08 539.74,492.11 540.94,487.19 542.20,492.93 543.66,490.71 544.71,493.38 545.62,489.27 546.70,493.41 548.00,490.54 549.03,493.78 550.03,490.39 551.47,493.89 552.77,488.97 553.93,494.94 555.37,490.14 556.46,494.98 557.76,488.71 558.78,493.70 559.94,489.08 561.32,494.58 562.77,490.10 564.20,494.39 565.33,491.41 566.58,495.89 567.67,491.32 568.65,494.79 569.85,490.96 571.25,495.07 572.66,494.71 573.99,508.94 574.44,513.46 574.89,521.77 575.34,527.86 575.79,538.81 576.24,550.71 576.69,565.02 577.14,578.15 577.59,592.07 578.04,600.05 578.49,608.49 578.94,615.26 579.39,623.65 579.84,629.91 580.29,630.54 580.74,629.00 581.19,630.79 581.64,627.35 582.09,628.83 583.56,620.63 584.62,624.24 585.63,620.36 586.80,623.10 587.86,618.02 588.89,621.01 590.04,614.55 591.31,617.20 592.51,611.39 593.60,615.16 595.00,612.02 596.49,613.90 597.66,607.26 598.61,608.93 599.53,603.52 600.95,606.91 601.88,601.77 603.20,605.37 604.44,601.08 605.53,604.46 606.90,599.34 607.82,601.27 608.80,598.72 609.97,601.50 610.88,600.25 612.28,602.33 613.32,597.87 614.31,600.97 615.24,597.42 616.52,601.73 617.68,596.84 618.96,601.35 620.25,597.41 621.64,599.70 623.11,595.90 624.42,598.23 625.44,595.28 626.63,597.22 627.64,595.40 628.54,596.95 629.73,595.33 631.05,598.75 632.06,596.21 633.13,598.42 634.23,594.95 635.55,597.31 636.76,594.95 638.03,598.27 639.39,595.35 640.52,598.46 641.90,595.13 643.34,598.44 644.29,595.20 645.75,599.29 647.09,595.15 648.06,597.67 649.24,595.68 649.40,598.46"/>
<polyline points="291.70,688.30 292.04,688.98 292.52,689.89 293.07,691.01 293.62,692.32 294.10,693.80 294.50,695.48 294.87,697.37 295.22,699.42 295.56,701.58 295.90,703.80 296.23,706.14 296.54,708.65 296.86,711.21 297.17,713.72 297.50,716.10 297.85,718.38 298.21,720.63 298.57,722.78 298.94,724.76 299.30,726.50 299.64,727.86 299.95,728.90 300.27,729.80 300.64,730.77 301.10,732.00 301.65,733.59 302.26,735.40 302.93,737.30 303.65,739.11 304.40,740.70 305.16,742.00 305.92,743.13 306.75,744.15 307.69,745.15 308.80,746.20 310.13,747.32 311.65,748.46 313.27,749.59 314.91,750.68 316.50,751.70 318.02,752.65 319.54,753.55 321.06,754.41 322.58,755.22 324.10,756.00 325.58,756.73 327.01,757.41 328.48,758.05 330.05,758.68 331.80,759.30 333.89,759.94 336.26,760.58 338.69,761.21 340.94,761.79 342.80,762.30 344.07,762.70 344.89,763.02 345.57,763.30 346.37,763.60 347.60,764.00 349.22,764.51 351.05,765.09 353.12,765.70 355.46,766.32 358.10,766.90 361.15,767.44 364.60,767.96 368.26,768.47 371.99,768.98 375.60,769.50 379.14,770.03 382.72,770.56 386.29,771.09 389.77,771.61 393.10,772.10 396.19,772.56 399.08,773.00 401.92,773.43 404.84,773.86 408.00,774.30 411.31,774.73 414.69,775.16 418.24,775.59 422.07,776.06 426.30,776.60 431.05,777.24 436.25,777.95 441.70,778.70 447.22,779.43 452.60,780.10 457.84,780.69 463.08,781.24 468.32,781.77 473.56,782.28 478.80,782.80 484.38,783.35 490.28,783.93 496.03,784.49 501.13,784.99 505.10,785.40 507.71,785.70 509.29,785.93 510.17,786.09 510.69,786.20 511.20,786.30"/>
</g>
<polyline fill="none" stroke="#ff1a1a" stroke-width="1.2" stroke-dasharray="11 6.5" points="291.70,685.40 292.17,686.61 292.85,688.25 293.63,690.25 294.38,692.53 295.00,695.00 295.44,697.79 295.79,700.96 296.09,704.31 296.41,707.66 296.80,710.80 297.27,713.83 297.78,716.87 298.32,719.79 298.87,722.48 299.40,724.80 299.89,726.63 300.35,728.06 300.83,729.27 301.36,730.45 302.00,731.80 302.74,733.35 303.55,734.98 304.43,736.63 305.38,738.22 306.40,739.70 307.44,741.02 308.51,742.22 309.66,743.37 310.97,744.54 312.50,745.80 314.32,747.18 316.38,748.64 318.59,750.11 320.83,751.55 323.00,752.90 325.07,754.16 327.11,755.37 329.17,756.52 331.28,757.60 333.50,758.60 335.84,759.52 338.29,760.35 340.79,761.12 343.31,761.83 345.80,762.50 348.18,763.09 350.47,763.60 352.81,764.08 355.31,764.56 358.10,765.10 361.27,765.70 364.73,766.34 368.35,766.99 372.02,767.65 375.60,768.30 379.14,768.94 382.72,769.59 386.29,770.23 389.77,770.87 393.10,771.50 396.05,772.13 398.67,772.76 401.29,773.37 404.29,773.96 408.00,774.50 412.78,775.00 418.38,775.46 424.30,775.89 430.01,776.27 435.00,776.60 439.12,776.85 442.73,777.03 446.03,777.18 449.24,777.32 452.60,777.50 456.09,777.72 459.56,777.94 463.04,778.18 466.51,778.44 470.00,778.70 473.41,778.99 476.74,779.30 480.12,779.62 483.69,779.93 487.60,780.20 492.31,780.45 497.74,780.68 503.17,780.90 507.89,781.07 511.20,781.20"/>
<line x1="291.5" y1="757.2" x2="621.9" y2="802.6" stroke="#1f1fff" stroke-width="1.1" stroke-dasharray="9.3 3.5 1.7 3.5"/>
<rect x="566.86" y="6.9" width="16.52" height="654.5" fill="rgb(208,208,208)" fill-opacity="0.5" stroke="#000" stroke-opacity="0.5" stroke-width="1"/>
<g stroke="#262626" stroke-width="1" fill="none">
<path d="M291.5 6.4V878.9M677 6.4V878.9M291 6.9H677.5M291 225.4H677.5M291 442.5H677.5M291 661.4H677.5M291 878.4H677.5"/>
<path d="M346.57 6.90v4M401.64 6.90v4M456.71 6.90v4M511.79 6.90v4M566.86 6.90v4M621.93 6.90v4M346.57 225.40v-4M346.57 225.40v4M401.64 225.40v-4M401.64 225.40v4M456.71 225.40v-4M456.71 225.40v4M511.79 225.40v-4M511.79 225.40v4M566.86 225.40v-4M566.86 225.40v4M621.93 225.40v-4M621.93 225.40v4M346.57 442.50v-4M346.57 442.50v4M401.64 442.50v-4M401.64 442.50v4M456.71 442.50v-4M456.71 442.50v4M511.79 442.50v-4M511.79 442.50v4M566.86 442.50v-4M566.86 442.50v4M621.93 442.50v-4M621.93 442.50v4M346.57 661.40v-4M346.57 661.40v4M401.64 661.40v-4M401.64 661.40v4M456.71 661.40v-4M456.71 661.40v4M511.79 661.40v-4M511.79 661.40v4M566.86 661.40v-4M566.86 661.40v4M621.93 661.40v-4M621.93 661.40v4M346.57 878.40v-4M401.64 878.40v-4M456.71 878.40v-4M511.79 878.40v-4M566.86 878.40v-4M621.93 878.40v-4M291.50 170.75h4M677.00 170.75h-4M291.50 116.00h4M677.00 116.00h-4M291.50 61.25h4M677.00 61.25h-4M291.50 399.10h4M677.00 399.10h-4M291.50 355.70h4M677.00 355.70h-4M291.50 312.30h4M677.00 312.30h-4M291.50 268.90h4M677.00 268.90h-4M291.50 617.70h4M677.00 617.70h-4M291.50 573.90h4M677.00 573.90h-4M291.50 530.10h4M677.00 530.10h-4M291.50 486.30h4M677.00 486.30h-4M291.50 851.38h4M677.00 851.38h-4M291.50 824.25h4M677.00 824.25h-4M291.50 797.12h4M677.00 797.12h-4M291.50 770.00h4M677.00 770.00h-4M291.50 742.88h4M677.00 742.88h-4M291.50 715.75h4M677.00 715.75h-4M291.50 688.62h4M677.00 688.62h-4"/>
</g>
<g font-weight="bold" font-size="10.5" fill="#000">
<text x="303" y="21.5">b</text>
<text x="303" y="240.3">c</text>
<text x="303" y="457.5">d</text>
<text x="303" y="676.5">e</text>
</g>
<g font-size="12" fill="#262626">
<text transform="translate(266.8,113.2) rotate(-90)" text-anchor="middle"><tspan font-style="italic">r</tspan>(Li<tspan dy="-4" font-size="8.5">+</tspan><tspan dy="4">-Bz</tspan><tspan dy="2.8" font-size="8.5" dx="0.6">2</tspan><tspan dy="-2.8" dx="0.6">) (Å)</tspan></text>
<text transform="translate(262.8,331.5) rotate(-90)" text-anchor="middle"><tspan font-style="italic">r</tspan>(Bz-Bz) (Å)</text>
<text transform="translate(264.8,552.2) rotate(-90)" text-anchor="middle"><tspan font-style="italic">N</tspan><tspan dy="2.8" font-size="8.5" dx="0.5">c</tspan><tspan dy="-2.8" dx="0.5">(Li</tspan><tspan dy="-4.5" font-size="8.5">+</tspan><tspan dy="4.5">)</tspan></text>
<text transform="translate(266.6,768.9) rotate(-90)" text-anchor="middle"><tspan font-style="italic">r</tspan>(Li<tspan dy="-4" font-size="8.5">+</tspan><tspan dy="4">-Bz</tspan><tspan dy="2.8" font-size="8.5" dx="0.6">2</tspan><tspan dy="-2.8" dx="0.6">) (Å)</tspan></text>
<text x="485.5" y="908" text-anchor="middle"><tspan font-style="italic">t</tspan> (ps)</text>
</g>
<line x1="405.5" y1="683.1" x2="450.2" y2="683.1" stroke="#000" stroke-width="1"/>
<line x1="405.5" y1="702" x2="450.2" y2="702" stroke="#ff1a1a" stroke-width="1" stroke-dasharray="11 6.5"/>
<g font-size="9.75" fill="#262626">
<text x="454.8" y="687.8">to Bz<tspan dy="2.5" font-size="7.5">2</tspan></text>
<text x="454.8" y="704">to droplet center (no Bz<tspan dy="2.5" font-size="7.5">2</tspan><tspan dy="-2.5">)</tspan></text>
</g>
<text x="526.3" y="773" font-size="10.7" fill="#1f1fff"><tspan font-style="italic">v</tspan><tspan dy="4" font-size="8.8">diffusion</tspan><tspan dy="-4"> = 14 m/s</tspan></text>
</svg>
</body></html>
